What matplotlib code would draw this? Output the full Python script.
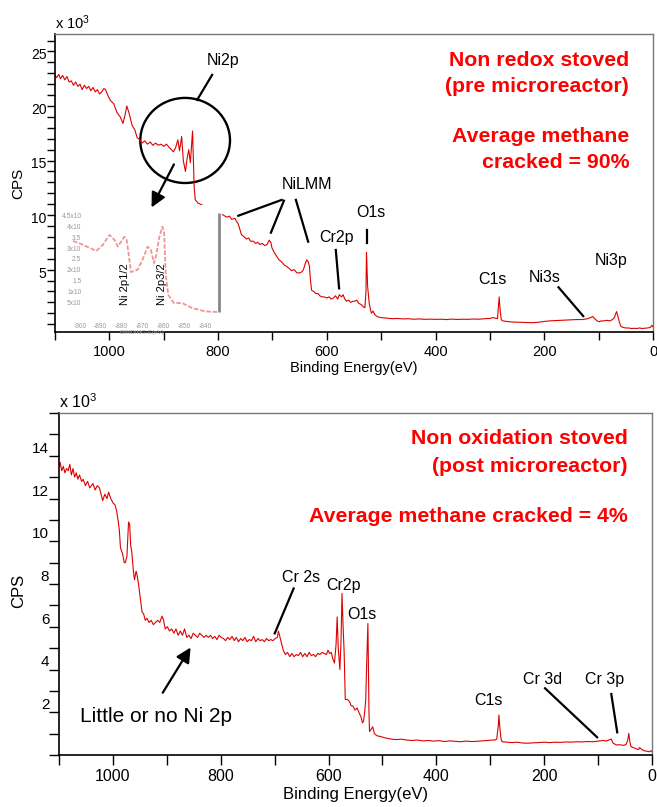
import matplotlib
matplotlib.use("Agg")
import matplotlib.pyplot as plt
from matplotlib.patches import Ellipse
from matplotlib.ticker import MultipleLocator

plt.rcParams['font.family'] = ['Liberation Sans', 'DejaVu Sans']
plt.rcParams['mathtext.default'] = 'regular'

# ---- top spectrum: non redox stoved (pre microreactor), CPS x 10^3 ----
top_ev = [1100, 1097, 1093, 1090, 1086, 1082, 1078, 1074, 1070, 1066, 1062, 1058, 1054, 1050,
          1046, 1042, 1038, 1034, 1030, 1026, 1022, 1018, 1014, 1010, 1007, 1003, 998, 992,
          986, 980, 975, 971, 968, 964, 958, 953, 949, 944, 940, 935, 930, 925, 920, 915, 910,
          905, 900, 895, 890, 886, 882, 878, 874, 871, 867, 864, 860, 857, 854, 851, 847, 844,
          842, 837, 820, 800, 787, 784, 779, 775, 769, 766, 763, 760, 757, 752, 748, 744, 740,
          735, 731, 727, 723, 719, 714, 710, 706, 703, 701, 697, 692, 688, 683, 678, 674, 669,
          665, 660, 655, 650, 646, 643, 640, 637, 634, 632, 630, 628, 624, 620, 616, 613, 609,
          605, 600, 596, 592, 588, 584, 580, 577, 573, 570, 567, 564, 560, 556, 552, 549, 545,
          541, 537, 533, 530, 528, 527, 525, 522, 520, 518, 515, 512, 509, 505, 500, 490, 480,
          470, 460, 450, 440, 430, 420, 410, 400, 390, 380, 370, 360, 350, 340, 330, 320, 310,
          300, 295, 290, 286, 283, 281, 279, 276, 270, 260, 250, 240, 230, 222, 210, 200, 190,
          180, 170, 160, 150, 140, 130, 120, 115, 111, 107, 103, 99, 95, 90, 85, 80, 75, 71, 69,
          67, 65, 62, 59, 55, 50, 45, 40, 35, 30, 25, 20, 15, 10, 5, 2, 0]
top_cps = [23.8, 23.6, 23.9, 23.5, 23.8, 23.4, 23.7, 23.2, 23.3, 22.9, 23.2, 22.8, 23.0, 22.5,
           22.9, 22.6, 22.8, 22.4, 22.7, 22.3, 22.5, 22.1, 22.3, 22.6, 22.5, 22.0, 21.5, 21.2,
           20.4, 20.0, 19.4, 20.2, 21.0, 20.4, 19.2, 18.8, 18.1, 17.9, 17.6, 17.8, 17.5, 17.7,
           17.4, 17.6, 17.4, 17.5, 17.3, 17.5, 17.2, 17.0, 16.8, 17.2, 17.9, 16.9, 18.2, 16.0,
           15.0, 16.2, 17.0, 15.8, 18.7, 13.6, 12.4, 12.1, 11.7, 11.3, 10.9, 10.8, 10.9, 10.6,
           10.7, 10.4, 10.2, 9.7, 9.2, 9.0, 8.8, 8.9, 8.6, 8.6, 8.4, 8.5, 8.3, 8.4, 8.2, 8.3,
           8.7, 8.5, 8.0, 7.6, 7.2, 6.9, 6.7, 6.4, 6.3, 6.1, 5.9, 6.0, 5.7, 5.7, 5.8, 6.0, 6.5,
           6.9, 6.7, 6.3, 5.0, 4.1, 4.0, 3.8, 3.8, 3.6, 3.5, 3.5, 3.4, 3.5, 3.3, 3.4, 3.6, 3.3,
           3.7, 3.5, 3.7, 3.3, 3.1, 3.2, 3.0, 3.1, 3.1, 3.2, 2.9, 2.8, 2.6, 2.5, 4.0, 7.6, 4.5,
           2.9, 2.4, 2.0, 2.2, 1.9, 1.75, 1.65, 1.6, 1.55, 1.5, 1.52, 1.48, 1.5, 1.45, 1.48,
           1.44, 1.46, 1.44, 1.45, 1.42, 1.46, 1.43, 1.45, 1.44, 1.47, 1.45, 1.5, 1.52, 1.6,
           1.55, 1.5, 3.5, 2.2, 1.4, 1.3, 1.25, 1.2, 1.18, 1.15, 1.14, 1.13, 1.18, 1.25, 1.3,
           1.32, 1.35, 1.38, 1.4, 1.42, 1.42, 1.5, 1.6, 1.7, 1.5, 1.3, 1.22, 1.3, 1.3, 1.35,
           1.3, 1.4, 1.6, 1.9, 2.15, 1.8, 1.2, 0.8, 0.7, 0.65, 0.65, 0.6, 0.62, 0.6, 0.65, 0.6,
           0.62, 0.65, 0.7, 0.9, 0.75]

# ---- inset: Ni 2p detail (relative counts) ----
inset_ev = [903.2, 898.4, 892.1, 889.0, 885.8, 883.4, 881.8, 878.7, 877.6, 876.8, 875.5, 872.4,
            870.0, 867.6, 866.0, 864.5, 863.4, 862.1, 860.5, 859.7, 858.9, 857.7, 855.0, 851.0,
            849.4, 846.3, 840.0, 833.6]
inset_cps = [6.87, 6.52, 6.0, 6.52, 7.39, 6.96, 6.37, 7.24, 6.96, 5.94, 4.15, 4.35, 5.22, 6.37,
             6.09, 4.93, 5.65, 7.1, 8.11, 7.68, 3.91, 2.17, 1.45, 1.45, 1.3, 1.02, 0.72, 0.67]
inset_xticks = [900, 890, 880, 870, 860, 850, 840]

# ---- bottom spectrum: non oxidation stoved (post microreactor) ----
bot_ev = [1100, 1098, 1095, 1092, 1089, 1086, 1083, 1080, 1077, 1074, 1071, 1068, 1065, 1062,
          1058, 1055, 1051, 1047, 1043, 1040, 1037, 1033, 1029, 1025, 1022, 1019, 1015, 1011,
          1008, 1004, 1000, 996, 993, 990, 988, 986, 982, 979, 977, 974, 972, 971, 969, 967,
          965, 962, 960, 957, 955, 952, 949, 946, 943, 940, 937, 933, 929, 925, 921, 917, 913,
          909, 906, 903, 899, 895, 891, 887, 883, 879, 875, 871, 867, 863, 859, 855, 851, 847,
          843, 839, 835, 831, 827, 823, 819, 815, 811, 807, 803, 799, 795, 791, 787, 783, 779,
          775, 771, 767, 763, 759, 755, 751, 747, 743, 739, 735, 731, 727, 723, 719, 715, 711,
          707, 703, 699, 695, 693, 690, 687, 684, 680, 676, 672, 668, 664, 660, 656, 652, 648,
          644, 640, 636, 632, 628, 624, 620, 616, 612, 608, 604, 601, 598, 595, 592, 589, 586,
          584, 582, 579, 577, 575, 573, 571, 569, 565, 561, 558, 555, 551, 547, 543, 540, 537,
          535, 533, 531, 529, 527, 525, 524, 521, 518, 515, 510, 503, 495, 485, 475, 465, 455,
          445, 435, 425, 415, 405, 395, 385, 375, 365, 355, 345, 335, 325, 315, 305, 296, 291,
          288, 285, 284, 282, 280, 278, 270, 260, 250, 240, 230, 220, 210, 200, 190, 180, 170,
          160, 150, 140, 130, 120, 110, 100, 90, 85, 80, 76, 72, 66, 60, 52, 48, 45, 43, 41, 39,
          35, 30, 25, 23, 20, 15, 10, 5, 2, 0]
bot_cps = [13.5, 13.7, 13.3, 13.5, 13.2, 13.4, 13.3, 13.6, 13.1, 13.4, 13.0, 13.2, 12.9, 13.1,
           12.8, 12.9, 12.6, 12.8, 12.5, 12.6, 12.7, 12.4, 12.6, 12.5, 12.2, 11.9, 12.2, 12.0,
           12.3, 12.0, 11.8, 11.7, 11.4, 10.9, 10.5, 9.7, 9.4, 9.0, 9.0, 9.3, 10.3, 10.9, 10.8,
           9.8, 9.5, 8.6, 8.2, 8.6, 8.4, 7.9, 7.3, 6.7, 6.6, 6.3, 6.4, 6.2, 6.3, 6.1, 6.2, 6.3,
           6.2, 6.5, 6.3, 5.9, 6.0, 5.8, 5.9, 5.7, 5.9, 5.6, 5.8, 5.6, 5.9, 5.5, 5.6, 5.45, 5.7,
           5.6, 5.5, 5.7, 5.6, 5.5, 5.6, 5.5, 5.6, 5.45, 5.55, 5.4, 5.6, 5.5, 5.45, 5.35, 5.5,
           5.4, 5.55, 5.35, 5.5, 5.3, 5.45, 5.35, 5.5, 5.3, 5.4, 5.35, 5.55, 5.3, 5.45, 5.35,
           5.4, 5.3, 5.45, 5.35, 5.4, 5.35, 5.45, 5.5, 5.8, 5.5, 5.2, 4.9, 4.7, 4.8, 4.6, 4.75,
           4.6, 4.7, 4.65, 4.8, 4.6, 4.75, 4.6, 4.8, 4.65, 4.7, 4.6, 4.75, 4.7, 4.8, 4.75, 4.7,
           4.9, 4.75, 4.8, 4.5, 4.3, 5.2, 6.46, 5.0, 4.0, 5.2, 7.56, 6.0, 4.75, 2.6, 2.6, 2.5,
           2.3, 2.3, 2.1, 2.2, 1.95, 1.8, 1.5, 1.6, 2.0, 2.6, 4.5, 6.15, 2.0, 1.1, 1.2, 1.32,
           1.0, 0.9, 0.86, 0.8, 0.75, 0.72, 0.74, 0.7, 0.68, 0.7, 0.66, 0.68, 0.65, 0.67, 0.63,
           0.66, 0.64, 0.62, 0.65, 0.63, 0.64, 0.66, 0.68, 0.7, 0.7, 0.75, 1.4, 1.87, 1.2, 0.75,
           0.62, 0.6, 0.58, 0.6, 0.56, 0.55, 0.57, 0.58, 0.6, 0.58, 0.6, 0.59, 0.61, 0.6, 0.62,
           0.61, 0.63, 0.62, 0.65, 0.68, 0.65, 0.7, 0.75, 0.55, 0.47, 0.48, 0.45, 0.5, 0.7, 1.01,
           0.6, 0.39, 0.35, 0.3, 0.25, 0.35, 0.28, 0.2, 0.18, 0.15, 0.2, 0.15]

red = '#dd0000'
W, H = 657, 807
fig = plt.figure(figsize=(W / 100, H / 100), dpi=100)


def style_axes(ax, fs):
    ax.set_xlim(1100, 0)
    ax.xaxis.set_major_locator(MultipleLocator(200))
    ax.xaxis.set_minor_locator(MultipleLocator(100))
    ax.yaxis.set_minor_locator(MultipleLocator(1))
    for s in ['top', 'right']:
        ax.spines[s].set_color('#777777')
        ax.spines[s].set_linewidth(1.0)
    for s in ['left', 'bottom']:
        ax.spines[s].set_color('black')
        ax.spines[s].set_linewidth(1.2)
    ax.tick_params(which='both', direction='out', length=6, width=1, top=False, right=False)
    ax.tick_params(axis='x', labelsize=fs, pad=3)
    ax.tick_params(axis='y', labelsize=fs - 0.5, pad=0)
    for lab in ax.get_yticklabels():
        lab.set_va('bottom')


# ================= top panel =================
ax1 = fig.add_axes([55 / W, 1 - 332 / H, 598 / W, 298 / H])
ax1.plot(top_ev, top_cps, color=red, lw=0.8)
ax1.set_ylim(0.28, 27.6)
ax1.set_yticks([5, 10, 15, 20, 25])
style_axes(ax1, 10.5)
ax1.set_xlabel('Binding Energy(eV)', fontsize=10.5)
ax1.xaxis.set_label_coords(0.5, -0.098)
ax1.set_ylabel('CPS', fontsize=11)
ax1.yaxis.set_label_coords(-0.05, 0.5)
ax1.text(0.0, 1.006, r'x 10$^3$', transform=ax1.transAxes, fontsize=10.5, ha='left', va='bottom')

kw = dict(fontsize=11.5, ha='center', va='center')
ax1.text(790.8, 25.2, 'Ni2p', **kw)
ax1.plot([811, 838.5], [23.85, 21.56], color='black', lw=1.6)
ax1.add_patch(Ellipse((860.6, 17.84), 165, 7.8, fill=False, ec='black', lw=1.7))
ax1.text(636.7, 13.76, 'NiLMM', **kw)
ax1.plot([683.1, 762.8], [12.39, 10.94], color='black', lw=1.6)
ax1.plot([678.9, 702.8], [12.32, 9.39], color='black', lw=1.6)
ax1.plot([656.9, 634.3], [12.39, 8.56], color='black', lw=1.6)
ax1.text(581.7, 8.9, 'Cr2p', **kw)
ax1.plot([583.5, 577.4], [7.8, 4.28], color='black', lw=1.6)
ax1.text(519.3, 11.22, 'O1s', **kw)
ax1.plot([526.1, 526.1], [9.63, 8.47], color='black', lw=1.6)
ax1.text(294.9, 5.05, 'C1s', **kw)
ax1.text(200, 5.26, 'Ni3s', **kw)
ax1.plot([173.8, 128.4], [4.38, 1.74], color='black', lw=1.6)
ax1.text(77.6, 6.88, 'Ni3p', **kw)

rk = dict(fontsize=15.3, color='#ff0000', fontweight='bold', ha='right', va='center')
fig.text(629 / W, 1 - 60 / H, 'Non redox stoved', **rk)
fig.text(629 / W, 1 - 87 / H, '(pre microreactor)', **rk)
fig.text(629 / W, 1 - 137 / H, 'Average methane', **rk)
fig.text(629 / W, 1 - 163 / H, 'cracked = 90%', **rk)

# inset (faded Ni 2p detail)
axi = fig.add_axes([62 / W, 1 - 322 / H, 160 / W, 117 / H])
axi.plot(inset_ev, inset_cps, color='#e03030', lw=1.3, alpha=0.5, ls=(0, (2.5, 1)))
axi.vlines(833.3, 0.7, 9.3, color='#888888', lw=2)
axi.set_xlim(908.5, 832)
axi.set_ylim(-0.2, 10)
for s in axi.spines.values():
    s.set_visible(False)
axi.set_xticks(inset_xticks)
axi.set_xticklabels(['-' + str(v) for v in inset_xticks])
axi.set_yticks([1.5, 2.45, 3.4, 4.35, 5.3, 6.25, 7.2, 8.15, 9.1])
axi.set_yticklabels(['5x10', '1x10', '1.5', '2x10', '2.5', '3x10', '3.5', '4x10', '4.5x10'])
axi.tick_params(length=0, labelsize=4.8, labelcolor='#999999', pad=-14)
axi.tick_params(axis='x', pad=1)
axi.set_xlabel('BINDING E(eV)', fontsize=4.5, color='#999999', labelpad=0)
axi.text(878.5, 3.1, 'Ni 2p1/2', rotation=90, fontsize=8, ha='center', va='center')
axi.text(860.8, 3.1, 'Ni 2p3/2', rotation=90, fontsize=8, ha='center', va='center')
arr = axi.annotate('', xy=(924.8, 11.47), xycoords=ax1.transData,
                   xytext=(878.9, 15.87), textcoords=ax1.transData,
                   arrowprops=dict(arrowstyle='-|>', color='black', lw=1.6, mutation_scale=22),
                   annotation_clip=False)
arr.arrow_patch.set_clip_on(False)

# ================= bottom panel =================
ax2 = fig.add_axes([59 / W, 1 - 755 / H, 593 / W, 342 / H])
ax2.plot(bot_ev, bot_cps, color=red, lw=0.8)
ax2.set_ylim(0, 16.0)
ax2.set_yticks([2, 4, 6, 8, 10, 12, 14])
style_axes(ax2, 11.5)
ax2.tick_params(which='both', length=7)
ax2.set_xlabel('Binding Energy(eV)', fontsize=12)
ax2.xaxis.set_label_coords(0.5, -0.094)
ax2.set_ylabel('CPS', fontsize=12)
ax2.yaxis.set_label_coords(-0.056, 0.48)
ax2.text(0.0, 1.006, r'x 10$^3$', transform=ax2.transAxes, fontsize=11.5, ha='left', va='bottom')

kw2 = dict(fontsize=11.5, ha='center', va='center')
ax2.text(651.9, 8.32, 'Cr 2s', **kw2)
ax2.plot([664.8, 699.8], [7.79, 5.69], color='black', lw=1.6)
ax2.text(572.7, 7.94, 'Cr2p', **kw2)
ax2.text(539, 6.59, 'O1s', **kw2)
ax2.text(303.9, 2.54, 'C1s', **kw2)
ax2.text(203.1, 3.54, 'Cr 3d', **kw2)
ax2.plot([198.3, 101.8], [3.12, 0.83], color='black', lw=1.6)
ax2.text(87.8, 3.54, 'Cr 3p', **kw2)
ax2.plot([75.5, 64.5], [2.85, 1.06], color='black', lw=1.6)
ax2.text(920.8, 1.82, 'Little or no Ni 2p', fontsize=15, ha='center', va='center')
ax2.annotate('', xy=(853.2, 5.14), xytext=(910.3, 2.8),
             arrowprops=dict(arrowstyle='-|>', color='black', lw=1.6, mutation_scale=22))

fig.text(628 / W, 1 - 439 / H, 'Non oxidation stoved', **rk)
fig.text(628 / W, 1 - 466 / H, '(post microreactor)', **rk)
fig.text(628 / W, 1 - 517 / H, 'Average methane cracked = 4%', **rk)

plt.savefig('out.png', dpi=100)
